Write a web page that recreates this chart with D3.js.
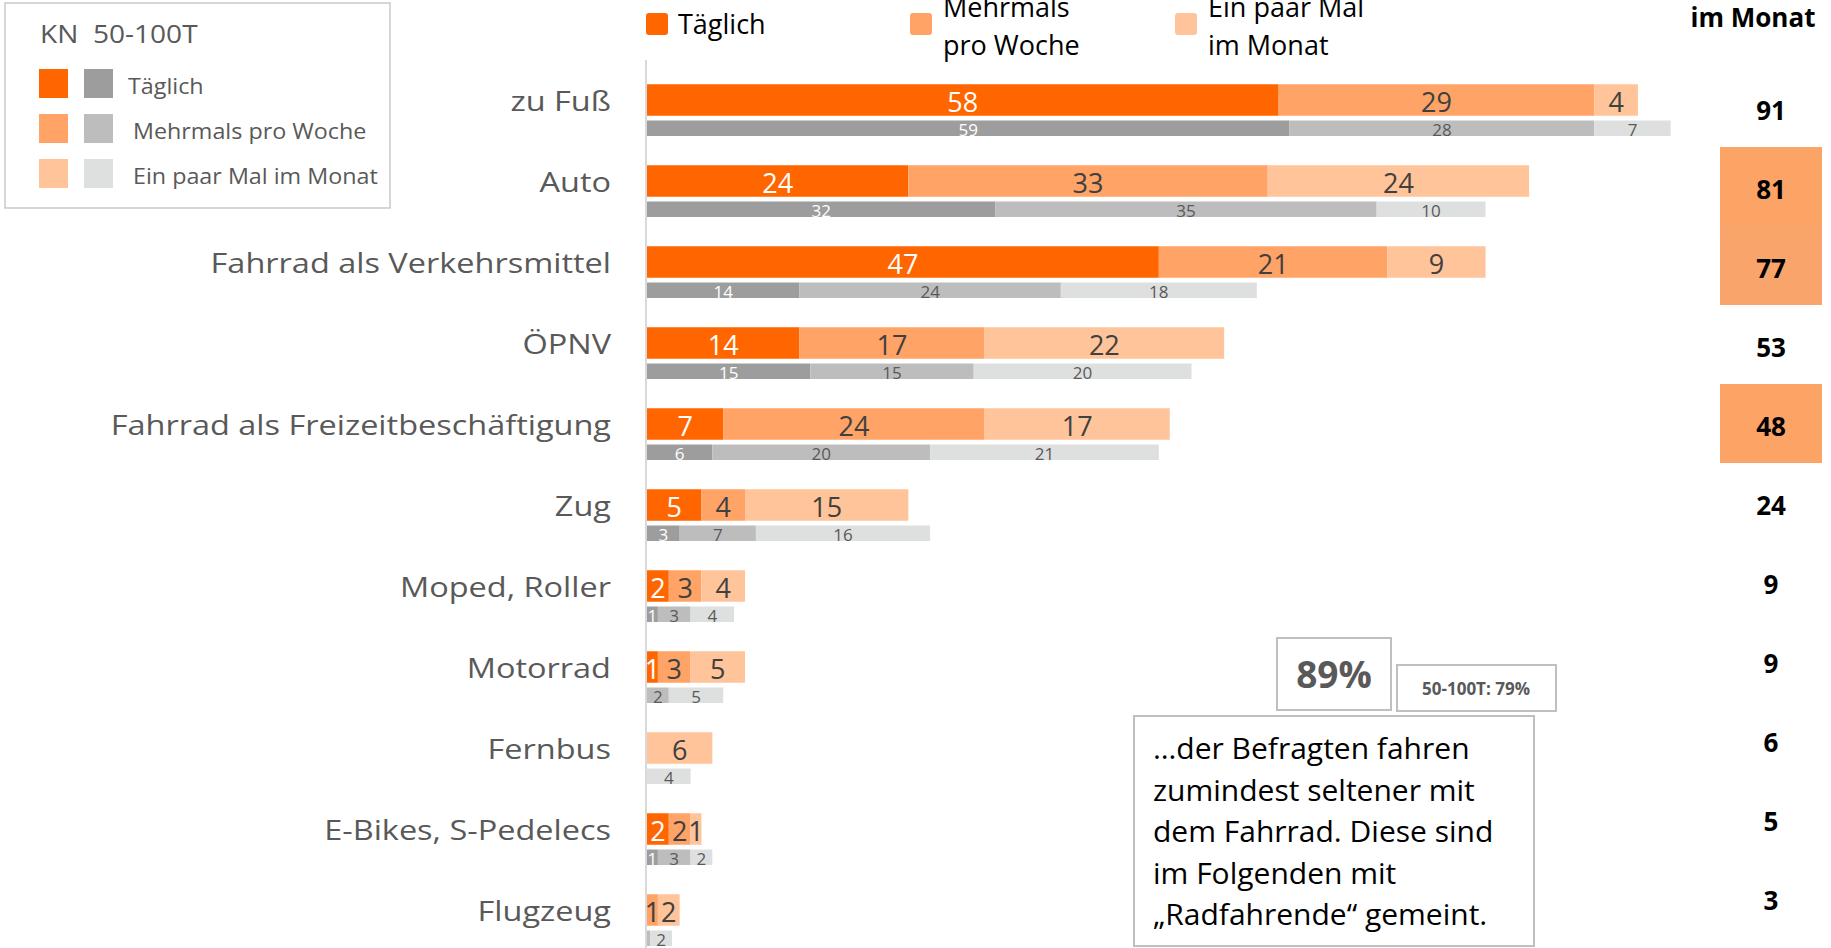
<!DOCTYPE html>
<html>
<head>
<meta charset="utf-8">
<script src="https://cdn.jsdelivr.net/npm/d3@7"></script>
<style>
  html, body { margin: 0; padding: 0; background: #fff; }
  svg { display: block; font-family: "Open Sans", "Noto Sans", sans-serif; }
</style>
</head>
<body>
<svg id="chart" width="1831" height="948"></svg>
<script>
// ---------- data ----------
const categories = ["zu Fuß", "Auto", "Fahrrad als Verkehrsmittel", "ÖPNV",
  "Fahrrad als Freizeitbeschäftigung", "Zug", "Moped, Roller", "Motorrad",
  "Fernbus", "E-Bikes, S-Pedelecs", "Flugzeug"];
const seriesNames = ["Täglich", "Mehrmals pro Woche", "Ein paar Mal im Monat"];
// KN values (orange)
const knDaily   = [58, 24, 47, 14, 7, 5, 2, 1, 0, 2, 0];
const knWeekly  = [29, 33, 21, 17, 24, 4, 3, 3, 0, 2, 1];
const knMonthly = [4, 24, 9, 22, 17, 15, 4, 5, 6, 1, 2];
// 50-100T comparison values (grey)
const refDaily   = [59, 32, 14, 15, 6, 3, 1, 0, 0, 1, 0];
const refWeekly  = [28, 35, 24, 15, 20, 7, 3, 2, 0, 3, 0.3];
const refMonthly = [7, 10, 18, 20, 21, 16, 4, 5, 4, 2, 2];
// "mindestens ein paar Mal im Monat" totals
const monthTotals = [91, 81, 77, 53, 48, 24, 9, 9, 6, 5, 3];
const highlighted = ["Auto", "Fahrrad als Verkehrsmittel", "Fahrrad als Freizeitbeschäftigung"];
const topLegendLines = [["Täglich"], ["Mehrmals", "pro Woche"], ["Ein paar Mal", "im Monat"]];
const columnHeader = "im Monat";
const boxTitle = "KN  50-100T";
const bigPercent = "89%";
const refPercent = "50-100T: 79%";
const noteLines = ["…der Befragten fahren", "zumindest seltener mit", "dem Fahrrad. Diese sind",
  "im Folgenden mit", "„Radfahrende“ gemeint."];

// ---------- styles ----------
const orangeColors = ["#FF6600", "#FFA366", "#FFC49A"];
const greyColors = ["#9D9D9E", "#BDBDBE", "#DEDFDF"];
const orangeText = ["#ffffff", "#404040", "#404040"];
const greyText = ["#ffffff", "#595959", "#595959"];

const svg = d3.select("#chart");

const x = d3.scaleLinear().domain([0, 100]).range([647, 1736]);
const y = d3.scalePoint().domain(categories).range([100, 910]);
const yRight = d3.scalePoint().domain(categories).range([110, 900]);

const orangeH = 31.5, greyOff = 20.5, greyH = 15.5;

const stack = d3.stack().keys([0, 1, 2]);
const knRows = categories.map((c, i) => ({cat: c, 0: knDaily[i], 1: knWeekly[i], 2: knMonthly[i]}));
const refRows = categories.map((c, i) => ({cat: c, 0: refDaily[i], 1: refWeekly[i], 2: refMonthly[i]}));
const knStack = stack(knRows);
const refStack = stack(refRows);

// axis line
svg.append("line")
  .attr("x1", x(0) - 1).attr("x2", x(0) - 1)
  .attr("y1", 60).attr("y2", 948)
  .attr("stroke", "#D9D9D9").attr("stroke-width", 2);

// category labels
svg.append("g").selectAll("text").data(categories).join("text")
  .attr("x", 0).attr("y", 0)
  .attr("transform", d => `translate(611,${y(d)}) scale(1.16,1)`)
  .attr("text-anchor", "end").attr("dominant-baseline", "central")
  .attr("font-size", 28).attr("fill", "#595959")
  .text(d => d);

// orange bars
knStack.forEach((layer, k) => {
  svg.append("g").selectAll("rect").data(layer).join("rect")
    .attr("x", d => x(d[0])).attr("width", d => x(d[1]) - x(d[0]))
    .attr("y", d => y(d.data.cat) - orangeH / 2).attr("height", orangeH)
    .attr("fill", orangeColors[k]);
});
knStack.forEach((layer, k) => {
  svg.append("g").selectAll("text").data(layer.filter(d => d[1] - d[0] >= 0.5)).join("text")
    .attr("x", d => (x(d[0]) + x(d[1])) / 2).attr("y", d => y(d.data.cat) + 1)
    .attr("text-anchor", "middle").attr("dominant-baseline", "central")
    .attr("font-size", 27).attr("fill", orangeText[k])
    .text(d => d3.format("d")(d[1] - d[0]));
});

// grey bars
refStack.forEach((layer, k) => {
  svg.append("g").selectAll("rect").data(layer).join("rect")
    .attr("x", d => x(d[0])).attr("width", d => x(d[1]) - x(d[0]))
    .attr("y", d => y(d.data.cat) + greyOff).attr("height", greyH)
    .attr("fill", greyColors[k]);
});
refStack.forEach((layer, k) => {
  svg.append("g").selectAll("text").data(layer.filter(d => d[1] - d[0] >= 0.5)).join("text")
    .attr("x", d => (x(d[0]) + x(d[1])) / 2).attr("y", d => y(d.data.cat) + greyOff + greyH / 2 + 1)
    .attr("text-anchor", "middle").attr("dominant-baseline", "central")
    .attr("font-size", 17).attr("fill", greyText[k])
    .text(d => d3.format("d")(d[1] - d[0]));
});

// right column
const colX = 1771;
svg.append("g").selectAll("rect").data(categories.filter(c => highlighted.includes(c))).join("rect")
  .attr("x", 1720).attr("width", 102)
  .attr("y", d => yRight(d) - 42).attr("height", 79)
  .attr("fill", (d, i) => i === 1 ? "#F9A46B" : "#FCA366");
svg.append("g").selectAll("text").data(categories).join("text")
  .attr("x", colX).attr("y", d => yRight(d))
  .attr("text-anchor", "middle").attr("dominant-baseline", "central")
  .attr("font-size", 26).attr("font-weight", "bold").attr("fill", "#000")
  .text((d, i) => monthTotals[i]);
svg.append("text").attr("x", 1753).attr("y", 27)
  .attr("text-anchor", "middle").attr("font-size", 26).attr("font-weight", "bold").attr("fill", "#000")
  .text(columnHeader);

// top legend
const legX = [646, 910, 1175];
topLegendLines.forEach((lines, k) => {
  svg.append("rect").attr("x", legX[k]).attr("y", 13).attr("width", 22).attr("height", 22)
    .attr("rx", 3).attr("fill", orangeColors[k]);
  const t = svg.append("text").attr("font-size", 27).attr("fill", "#000");
  if (lines.length === 1) {
    t.append("tspan").attr("x", legX[k] + 32).attr("y", 34).text(lines[0]);
  } else {
    t.append("tspan").attr("x", legX[k] + 33).attr("y", 17).text(lines[0]);
    t.append("tspan").attr("x", legX[k] + 33).attr("y", 55).text(lines[1]);
  }
});

// legend box (top-left)
svg.append("rect").attr("x", 5).attr("y", 3).attr("width", 385).attr("height", 205)
  .attr("fill", "#fff").attr("stroke", "#C9C9C9").attr("stroke-width", 1.5);
svg.append("text").attr("x", 0).attr("y", 0).attr("transform", "translate(40,43) scale(1.08,1)")
  .attr("font-size", 26).attr("fill", "#595959")
  .attr("xml:space", "preserve").style("white-space", "pre").text(boxTitle);
seriesNames.forEach((s, k) => {
  const yy = 69 + k * 45;
  svg.append("rect").attr("x", 39).attr("y", yy).attr("width", 29).attr("height", 29).attr("fill", orangeColors[k]);
  svg.append("rect").attr("x", 84).attr("y", yy).attr("width", 29).attr("height", 29).attr("fill", greyColors[k]);
  svg.append("text").attr("x", 0).attr("y", 0)
    .attr("transform", `translate(${k === 0 ? 128 : 133},${yy + 16}) scale(1.11,1)`)
    .attr("dominant-baseline", "central")
    .attr("font-size", 21).attr("fill", "#595959").text(s);
});

// annotation boxes
svg.append("rect").attr("x", 1277).attr("y", 638).attr("width", 114).attr("height", 72)
  .attr("fill", "#fff").attr("stroke", "#BFBFBF").attr("stroke-width", 2);
svg.append("text").attr("x", 1334).attr("y", 688).attr("text-anchor", "middle")
  .attr("font-size", 37).attr("font-weight", "bold").attr("fill", "#595959").text(bigPercent);
svg.append("rect").attr("x", 1397).attr("y", 665).attr("width", 159).attr("height", 46)
  .attr("fill", "#fff").attr("stroke", "#BFBFBF").attr("stroke-width", 2);
svg.append("text").attr("x", 1476).attr("y", 695).attr("text-anchor", "middle")
  .attr("font-size", 17).attr("font-weight", "bold").attr("fill", "#595959").text(refPercent);
svg.append("rect").attr("x", 1134).attr("y", 716).attr("width", 400).attr("height", 230)
  .attr("fill", "#fff").attr("stroke", "#BFBFBF").attr("stroke-width", 2);
svg.append("g").selectAll("text").data(noteLines).join("text")
  .attr("x", 1153).attr("y", (d, i) => 759 + i * 41.5)
  .attr("font-size", 30).attr("fill", "#000").text(d => d);
</script>
</body>
</html>
